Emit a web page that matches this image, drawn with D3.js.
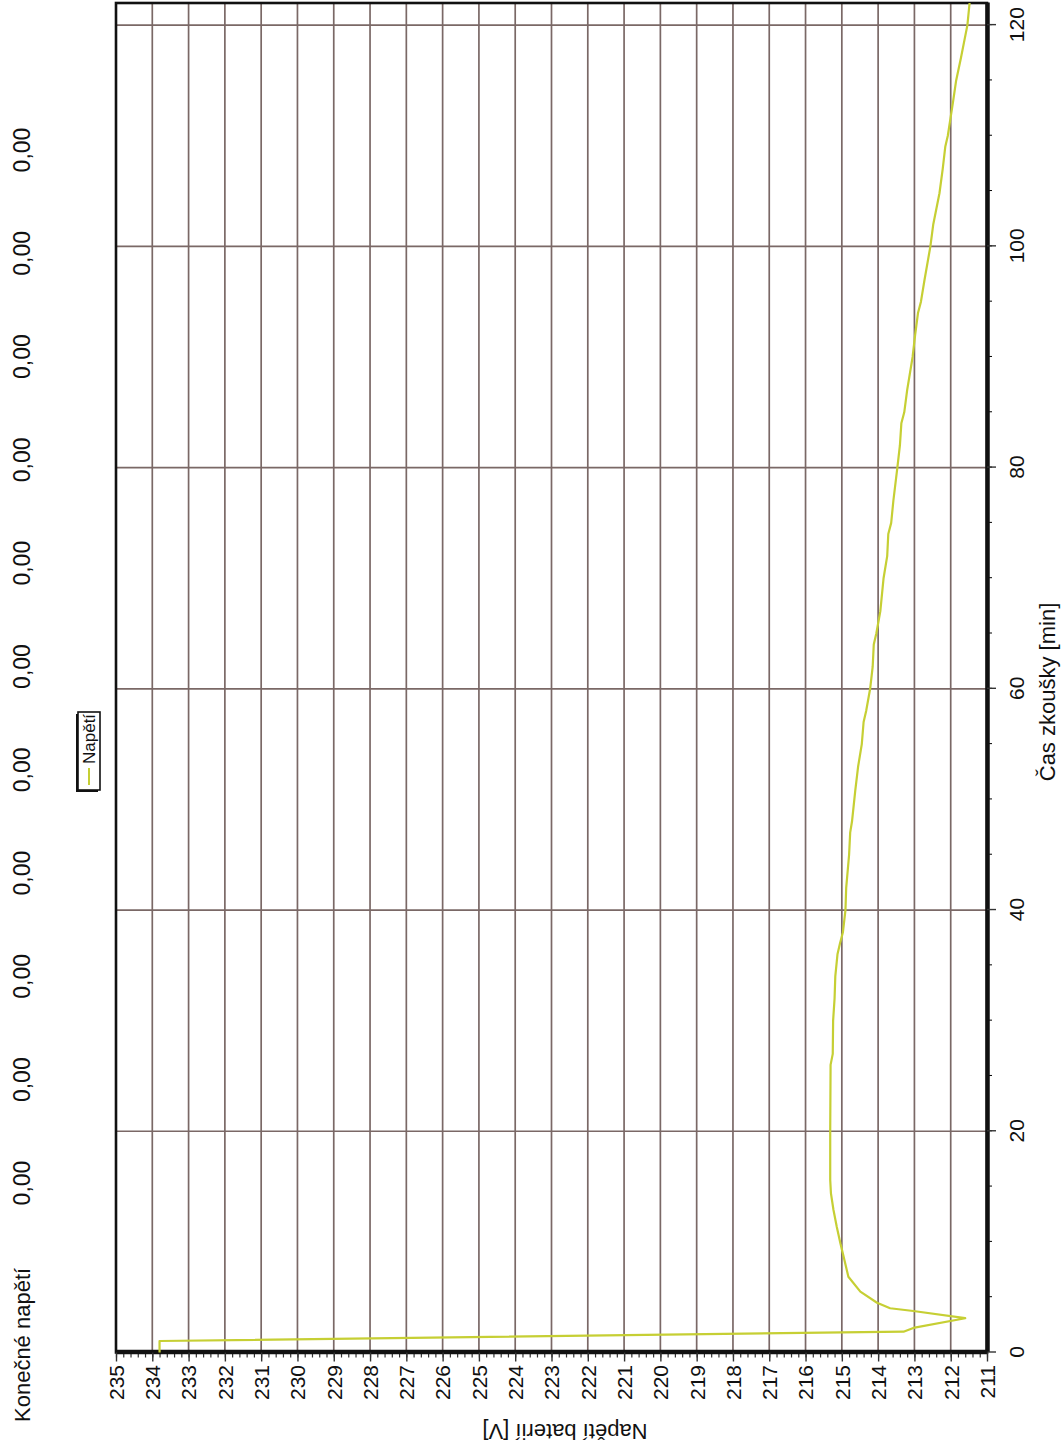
<!DOCTYPE html>
<html>
<head>
<meta charset="utf-8">
<script src="https://cdn.jsdelivr.net/npm/d3@7"></script>
<style>
  body { margin: 0; background: #fff; }
  svg text { font-family: "Liberation Sans", Arial, sans-serif; fill: #111; }
</style>
</head>
<body>
<svg id="chart" width="1062" height="1452"></svg>
<script>
// data
const timeMin = [0, 1.04, 1.88, 2.22, 3.1, 3.75, 4.0, 4.5, 5.5, 6.85, 8.66, 9.87, 11.37, 12.88, 14.39, 15.6,
  20, 26, 27, 30, 32, 34, 36, 37, 38, 40, 42, 45, 47, 48, 50.8, 53, 55, 57, 58, 60, 62, 64, 65, 67, 70, 72, 74, 75, 77,
  80, 82, 84, 85, 87, 90, 92, 94, 95, 97, 100, 102, 104.8, 107, 109, 110, 113.2, 115, 117, 120, 122]
const voltage = [233.8, 233.8, 213.3, 213.03, 211.6, 213.03, 213.67, 214.03, 214.49, 214.82, 214.95, 215.04, 215.14, 215.23, 215.3, 215.32,
  215.32, 215.31, 215.25, 215.24, 215.2, 215.18, 215.12, 215.05, 214.97, 214.9, 214.88, 214.8, 214.77, 214.72, 214.63, 214.55, 214.45, 214.4, 214.33, 214.22, 214.15, 214.12, 214.05, 213.94, 213.85, 213.75, 213.72, 213.64, 213.58,
  213.47, 213.4, 213.36, 213.28, 213.2, 213.05, 212.98, 212.9, 212.82, 212.72, 212.56, 212.48, 212.31, 212.22, 212.15, 212.08, 211.93, 211.85, 211.72, 211.54, 211.48]

const timeTicks = [0, 20, 40, 60, 80, 100, 120]
const voltTicks = [211, 212, 213, 214, 215, 216, 217, 218, 219, 220, 221, 222, 223, 224, 225,
  226, 227, 228, 229, 230, 231, 232, 233, 234, 235]

const headerLabel = 'Konečné napětí'
const headerValues = ['0,00', '0,00', '0,00', '0,00', '0,00', '0,00', '0,00', '0,00', '0,00', '0,00', '0,00']
const seriesName = 'Napětí'
const xTitle = 'Čas zkoušky [min]'
const yTitle = 'Napětí baterií [V]'

const gridColor = '#7a6866'
const lineColor = '#c6cf34'

// the sheet is scanned sideways: draw the chart upright, then turn it
const svg = d3.select('#chart')
const g = svg.append('g').attr('transform', 'translate(0,1452) rotate(-90)')

const x = d3.scaleLinear().domain([0, 122]).range([99.5, 1449])
const y = d3.scaleLinear().domain([211, 235]).range([987, 116])

// grid
g.append('g')
  .selectAll('line')
  .data(voltTicks.filter(d => d > 211 && d < 235))
  .join('line')
    .attr('x1', x(0)).attr('x2', x(122))
    .attr('y1', d => y(d)).attr('y2', d => y(d))
    .attr('stroke', gridColor).attr('stroke-width', 1.7)

g.append('g')
  .selectAll('line')
  .data(timeTicks.filter(d => d > 0))
  .join('line')
    .attr('x1', d => x(d)).attr('x2', d => x(d))
    .attr('y1', y(235)).attr('y2', y(211))
    .attr('stroke', gridColor).attr('stroke-width', 1.7)

// frame
g.append('rect')
  .attr('x', x(0)).attr('y', y(235))
  .attr('width', x(122) - x(0)).attr('height', y(211) - y(235))
  .attr('fill', 'none').attr('stroke', '#111').attr('stroke-width', 2.6)

// time axis (bottom of the upright chart)
g.append('g')
  .attr('transform', `translate(0,${y(211)})`)
  .call(d3.axisBottom(x).tickValues(d3.range(5, 121, 5)).tickSize(5).tickSizeOuter(0).tickFormat(''))
  .call(a => a.select('.domain').remove())

const xAx = g.append('g')
  .attr('transform', `translate(0,${y(211)})`)
  .call(d3.axisBottom(x).tickValues(timeTicks).tickSize(9).tickSizeOuter(0))
xAx.select('.domain').attr('stroke', '#111').attr('stroke-width', 4.5)
xAx.selectAll('.tick line').attr('stroke', '#333').attr('stroke-width', 1.4)
xAx.selectAll('text')
  .attr('y', 30).attr('dy', '0.35em')
  .style('font-size', '21px').attr('fill', '#111')

// voltage axis (left of the upright chart)
g.append('g')
  .attr('transform', `translate(${x(0)},0)`)
  .call(d3.axisLeft(y).tickValues(d3.range(211, 235.01, 0.2)).tickSize(5).tickSizeOuter(0).tickFormat(''))
  .call(a => a.select('.domain').remove())
  .selectAll('line').attr('stroke', '#333').attr('stroke-width', 1.2)

const yAx = g.append('g')
  .attr('transform', `translate(${x(0)},0)`)
  .call(d3.axisLeft(y).tickValues(voltTicks).tickSize(9).tickSizeOuter(0))
yAx.select('.domain').attr('stroke', '#111').attr('stroke-width', 4.5)
yAx.selectAll('.tick line').attr('stroke', '#333').attr('stroke-width', 1.4)
yAx.selectAll('text')
  .attr('x', -12.5).attr('dy', '0.35em')
  .style('font-size', '21px').attr('fill', '#111')

// the series
const line = d3.line()
  .x((d, i) => x(timeMin[i]))
  .y(d => y(d))

g.append('path')
  .datum(voltage)
  .attr('d', line)
  .attr('fill', 'none')
  .attr('stroke', lineColor)
  .attr('stroke-width', 2.2)
  .attr('stroke-linejoin', 'round')

// axis titles
g.append('text')
  .attr('x', 760).attr('y', 1047).attr('dy', '0.35em')
  .attr('text-anchor', 'middle')
  .style('font-size', '22px')
  .text(xTitle)

g.append('text')
  .attr('transform', 'translate(20,565) rotate(-90)')
  .attr('dy', '0.35em')
  .attr('text-anchor', 'middle')
  .style('font-size', '22px')
  .text(yTitle)

// header row
g.append('text')
  .attr('x', 30).attr('y', 22).attr('dy', '0.35em')
  .style('font-size', '22px')
  .text(headerLabel)

const hx = d3.scalePoint().domain(d3.range(headerValues.length)).range([1452 - 1183, 1452 - 150])
g.append('g')
  .selectAll('text')
  .data(headerValues)
  .join('text')
    .attr('x', (d, i) => hx(i)).attr('y', 22).attr('dy', '0.35em')
    .attr('text-anchor', 'middle')
    .style('font-size', '23px')
    .text(d => d)

// legend
const lg = g.append('g').attr('transform', 'translate(662,78)')
lg.append('rect').attr('x', -2).attr('y', -2).attr('width', 78).attr('height', 22).attr('fill', '#111')
lg.append('rect').attr('width', 78).attr('height', 22).attr('fill', '#fff').attr('stroke', '#111').attr('stroke-width', 1.6)
lg.append('line').attr('x1', 5).attr('x2', 22).attr('y1', 11).attr('y2', 11)
  .attr('stroke', lineColor).attr('stroke-width', 2)
lg.append('text').attr('x', 26).attr('y', 11).attr('dy', '0.35em')
  .style('font-size', '17px').text(seriesName)
</script>
</body>
</html>
